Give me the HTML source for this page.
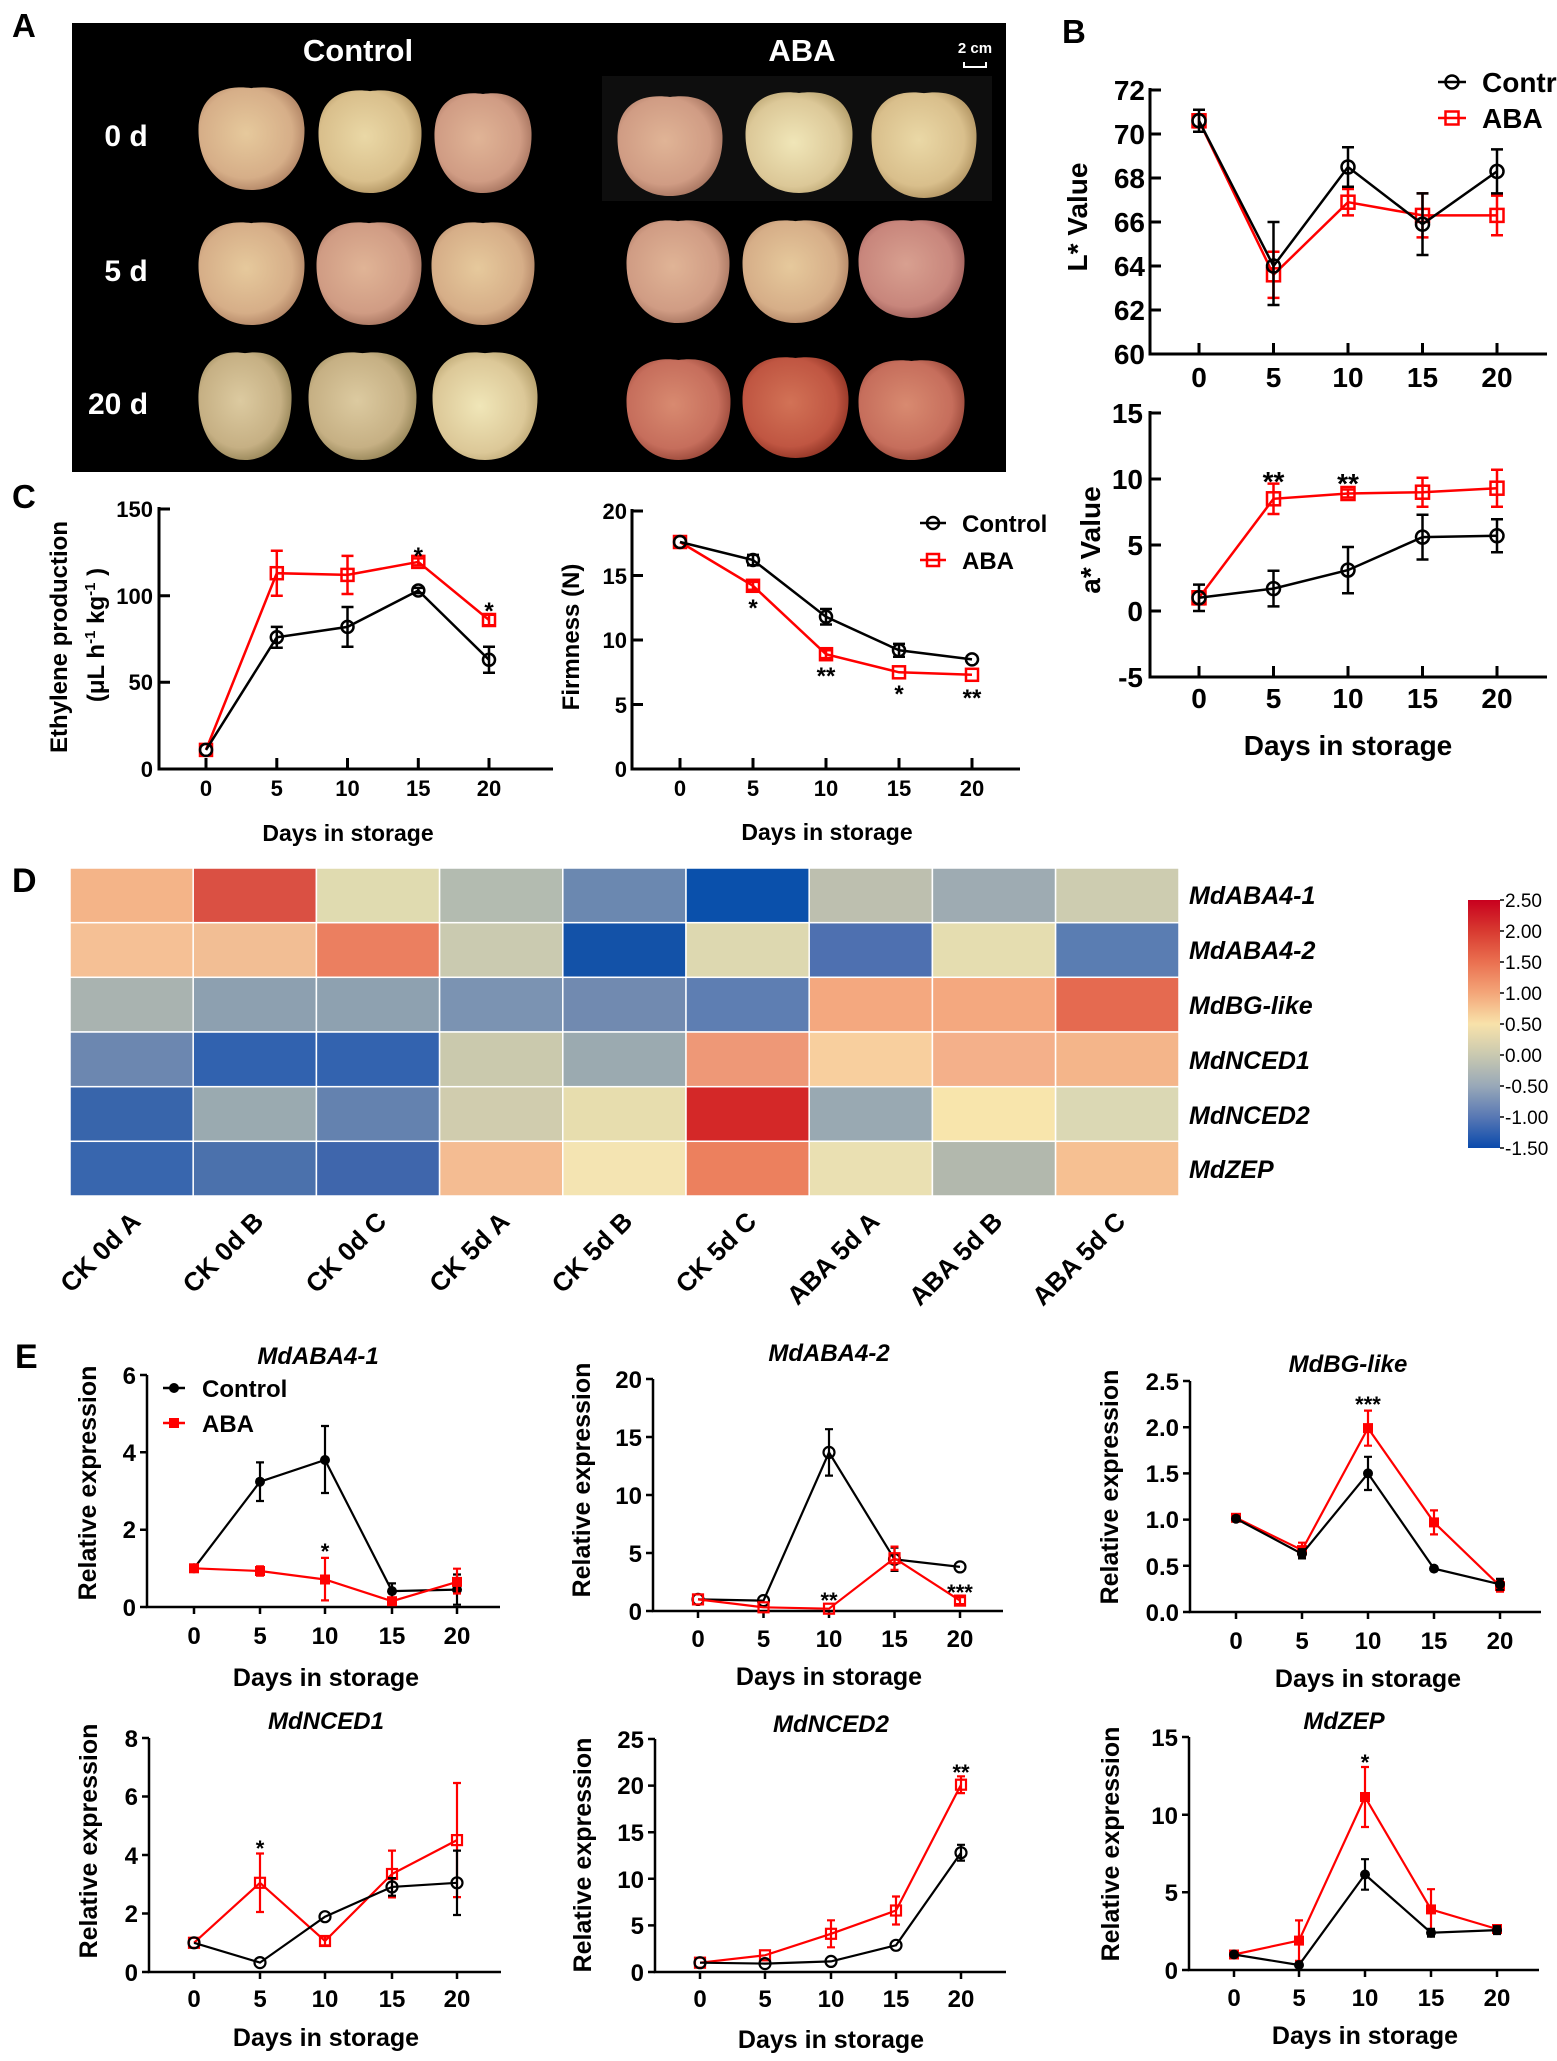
<!DOCTYPE html>
<html><head><meta charset="utf-8">
<style>
html,body{margin:0;padding:0;background:#fff;}
svg{display:block;}
text{font-family:"Liberation Sans",Arial,sans-serif;}
.b{font-weight:bold;}
</style></head>
<body>
<svg width="1557" height="2061" viewBox="0 0 1557 2061" xmlns="http://www.w3.org/2000/svg">
<defs>
<path id="ap" d="M0,-0.96 C0.5,-1.03 0.96,-0.86 0.99,-0.2 C1.01,0.5 0.62,1 0,1 C-0.62,1 -1.01,0.5 -0.99,-0.2 C-0.96,-0.86 -0.5,-1.03 0,-0.96Z"/>
<radialGradient id="gCream" cx="45%" cy="45%" r="62%"><stop offset="0" stop-color="#ead8a6"/><stop offset="0.7" stop-color="#d9bf8c"/><stop offset="1" stop-color="#a88a58"/></radialGradient>
<radialGradient id="gCP" cx="45%" cy="45%" r="62%"><stop offset="0" stop-color="#e6c99c"/><stop offset="0.7" stop-color="#d6ae88"/><stop offset="1" stop-color="#a87a5c"/></radialGradient>
<radialGradient id="gPink" cx="45%" cy="45%" r="62%"><stop offset="0" stop-color="#e0b496"/><stop offset="0.7" stop-color="#d09c84"/><stop offset="1" stop-color="#9c6a56"/></radialGradient>
<radialGradient id="gPR" cx="45%" cy="45%" r="62%"><stop offset="0" stop-color="#d8a090"/><stop offset="0.7" stop-color="#c8867c"/><stop offset="1" stop-color="#945450"/></radialGradient>
<radialGradient id="gLC" cx="45%" cy="50%" r="62%"><stop offset="0" stop-color="#f0e6b8"/><stop offset="0.7" stop-color="#dcc898"/><stop offset="1" stop-color="#b09a66"/></radialGradient>
<radialGradient id="gGreen" cx="45%" cy="45%" r="62%"><stop offset="0" stop-color="#dccaa0"/><stop offset="0.7" stop-color="#c6b084"/><stop offset="1" stop-color="#8a7a4c"/></radialGradient>
<radialGradient id="gRed" cx="45%" cy="45%" r="62%"><stop offset="0" stop-color="#d88a70"/><stop offset="0.7" stop-color="#c66e5c"/><stop offset="1" stop-color="#8e3e30"/></radialGradient>
<radialGradient id="gDRed" cx="45%" cy="45%" r="62%"><stop offset="0" stop-color="#d27256"/><stop offset="0.7" stop-color="#c05642"/><stop offset="1" stop-color="#862c1e"/></radialGradient>
<linearGradient id="cbar" x1="0" y1="0" x2="0" y2="1">
<stop offset="0" stop-color="#c8001e"/><stop offset="0.125" stop-color="#d83a30"/><stop offset="0.25" stop-color="#ea7050"/><stop offset="0.375" stop-color="#f4a679"/><stop offset="0.5" stop-color="#f8e2aa"/><stop offset="0.625" stop-color="#c9c9b0"/><stop offset="0.75" stop-color="#98a8b8"/><stop offset="0.875" stop-color="#5878b4"/><stop offset="1" stop-color="#0a4aac"/>
</linearGradient>
</defs>

<!-- ============ PANEL A ============ -->
<text x="12" y="37" class="b" font-size="33">A</text>
<rect x="72" y="23" width="934" height="449" fill="#000"/>
<rect x="602" y="76" width="390" height="125" fill="#0e0e0e"/>
<text x="358" y="61" class="b" font-size="31" fill="#fff" text-anchor="middle">Control</text>
<text x="802" y="61" class="b" font-size="31" fill="#fff" text-anchor="middle">ABA</text>
<text x="975" y="53" class="b" font-size="15" fill="#fff" text-anchor="middle">2 cm</text>
<path d="M964 62 V67 H986 V62" stroke="#fff" stroke-width="2" fill="none"/>
<text x="126" y="146" class="b" font-size="30" fill="#fff" text-anchor="middle">0 d</text>
<text x="126" y="281" class="b" font-size="30" fill="#fff" text-anchor="middle">5 d</text>
<text x="118" y="414" class="b" font-size="30" fill="#fff" text-anchor="middle">20 d</text>
<!-- apples row 0d -->
<use href="#ap" transform="translate(251.5,138) scale(53.5,52)" fill="url(#gCP)"/>
<use href="#ap" transform="translate(370,141) scale(52,52)" fill="url(#gCream)"/>
<use href="#ap" transform="translate(483,142.5) scale(49,50.5)" fill="url(#gPink)"/>
<use href="#ap" transform="translate(670,145.5) scale(53,50.5)" fill="url(#gPink)"/>
<use href="#ap" transform="translate(799,142) scale(54,51)" fill="url(#gLC)"/>
<use href="#ap" transform="translate(924,144.5) scale(53,53.5)" fill="url(#gCream)"/>
<!-- apples row 5d -->
<use href="#ap" transform="translate(251.5,273) scale(53.5,52)" fill="url(#gCP)"/>
<use href="#ap" transform="translate(369,273) scale(53,52)" fill="url(#gPink)"/>
<use href="#ap" transform="translate(483,273) scale(52,52)" fill="url(#gCP)"/>
<use href="#ap" transform="translate(678,271) scale(52,52)" fill="url(#gPink)"/>
<use href="#ap" transform="translate(795.5,271) scale(53.5,52)" fill="url(#gCP)"/>
<use href="#ap" transform="translate(911.5,268.5) scale(53.5,49.5)" fill="url(#gPR)"/>
<!-- apples row 20d -->
<use href="#ap" transform="translate(245,405.5) scale(47,54.5)" fill="url(#gGreen)"/>
<use href="#ap" transform="translate(362.5,405.5) scale(54.5,54.5)" fill="url(#gGreen)"/>
<use href="#ap" transform="translate(485,405.5) scale(53,54.5)" fill="url(#gLC)"/>
<use href="#ap" transform="translate(678.5,409) scale(52.5,51)" fill="url(#gRed)"/>
<use href="#ap" transform="translate(795.5,407) scale(53.5,51)" fill="url(#gDRed)"/>
<use href="#ap" transform="translate(911.5,409.5) scale(53.5,50.5)" fill="url(#gRed)"/>

<!-- ============ PANEL B ============ -->
<text x="1062" y="43" class="b" font-size="33">B</text>
<!-- L* chart -->
<g stroke="#000" stroke-width="3" fill="none">
<path d="M1150 88 V354 H1547"/>
<path d="M1150 90 H1161 M1150 134 H1161 M1150 178 H1161 M1150 222 H1161 M1150 266 H1161 M1150 310 H1161"/>
<path d="M1199 343 V354 M1273.5 343 V354 M1348 343 V354 M1422.5 343 V354 M1497 343 V354"/>
</g>
<g class="b" font-size="28" text-anchor="end">
<text x="1145" y="100">72</text><text x="1145" y="144">70</text><text x="1145" y="188">68</text><text x="1145" y="232">66</text><text x="1145" y="276">64</text><text x="1145" y="320">62</text><text x="1145" y="364">60</text>
</g>
<g class="b" font-size="28" text-anchor="middle">
<text x="1199" y="387">0</text><text x="1273.5" y="387">5</text><text x="1348" y="387">10</text><text x="1422.5" y="387">15</text><text x="1497" y="387">20</text>
</g>
<text transform="translate(1087,217) rotate(-90)" class="b" font-size="28" text-anchor="middle">L* Value</text>
<g fill="none" stroke="#f00" stroke-width="2.5">
<polyline points="1199,120.8 1273.5,274.8 1348,202.2 1422.5,215.4 1497,215.4"/>
<path d="M1193 114.2 H1205 M1199 114.2 V127.4 M1193 127.4 H1205 M1267.5 251.7 H1279.5 M1273.5 251.7 V297.9 M1267.5 297.9 H1279.5 M1342 189 H1354 M1348 189 V215.4 M1342 215.4 H1354 M1416.5 193.4 H1428.5 M1422.5 193.4 V237.4 M1416.5 237.4 H1428.5 M1491 195.6 H1503 M1497 195.6 V235.2 M1491 235.2 H1503"/>
<rect x="1192.5" y="114.3" width="13" height="13"/><rect x="1267" y="268.3" width="13" height="13"/><rect x="1341.5" y="195.7" width="13" height="13"/><rect x="1416" y="208.9" width="13" height="13"/><rect x="1490.5" y="208.9" width="13" height="13"/>
</g>
<g fill="none" stroke="#000" stroke-width="2.5">
<polyline points="1199,120.8 1273.5,266 1348,167 1422.5,224.2 1497,171.4"/>
<path d="M1193 109.8 H1205 M1199 109.8 V131.8 M1193 131.8 H1205 M1267.5 222 H1279.5 M1273.5 222 V305 M1267.5 305 H1279.5 M1342 147.2 H1354 M1348 147.2 V186.8 M1342 186.8 H1354 M1416.5 193.4 H1428.5 M1422.5 193.4 V255 M1416.5 255 H1428.5 M1491 149.4 H1503 M1497 149.4 V193.4 M1491 193.4 H1503"/>
<circle cx="1199" cy="120.8" r="6.5"/><circle cx="1273.5" cy="266" r="6.5"/><circle cx="1348" cy="167" r="6.5"/><circle cx="1422.5" cy="224.2" r="6.5"/><circle cx="1497" cy="171.4" r="6.5"/>
</g>
<!-- legend B -->
<g fill="none" stroke-width="2.5">
<path d="M1438 82 H1466" stroke="#000"/><circle cx="1452" cy="82" r="6.5" stroke="#000"/>
<path d="M1438 118 H1466" stroke="#f00"/><rect x="1445.5" y="111.5" width="13" height="13" stroke="#f00"/>
</g>
<text x="1482" y="92" class="b" font-size="28">Control</text>
<text x="1482" y="128" class="b" font-size="28">ABA</text>

<!-- a* chart -->
<g stroke="#000" stroke-width="3" fill="none">
<path d="M1150 411 V677 H1547"/>
<path d="M1150 413 H1161 M1150 479 H1161 M1150 545 H1161 M1150 611 H1161"/>
<path d="M1199 666 V677 M1273.5 666 V677 M1348 666 V677 M1422.5 666 V677 M1497 666 V677"/>
</g>
<g class="b" font-size="28" text-anchor="end">
<text x="1143" y="423">15</text><text x="1143" y="489">10</text><text x="1143" y="555">5</text><text x="1143" y="621">0</text><text x="1143" y="687">-5</text>
</g>
<g class="b" font-size="28" text-anchor="middle">
<text x="1199" y="708">0</text><text x="1273.5" y="708">5</text><text x="1348" y="708">10</text><text x="1422.5" y="708">15</text><text x="1497" y="708">20</text>
</g>
<text x="1348" y="755" class="b" font-size="28" text-anchor="middle">Days in storage</text>
<text transform="translate(1100,540) rotate(-90)" class="b" font-size="28" text-anchor="middle">a* Value</text>
<g fill="none" stroke="#f00" stroke-width="2.5">
<polyline points="1199,597.8 1273.5,498.8 1348,493.5 1422.5,492.2 1497,488.2"/>
<path d="M1193 591.2 H1205 M1199 591.2 V604.4 M1193 604.4 H1205 M1267.5 483.6 H1279.5 M1273.5 483.6 V514 M1267.5 514 H1279.5 M1342 489.5 H1354 M1348 489.5 V497.5 M1342 497.5 H1354 M1416.5 477.7 H1428.5 M1422.5 477.7 V506.7 M1416.5 506.7 H1428.5 M1491 469.7 H1503 M1497 469.7 V506.7 M1491 506.7 H1503"/>
<rect x="1192.5" y="591.3" width="13" height="13"/><rect x="1267" y="492.3" width="13" height="13"/><rect x="1341.5" y="487" width="13" height="13"/><rect x="1416" y="485.7" width="13" height="13"/><rect x="1490.5" y="481.7" width="13" height="13"/>
</g>
<g fill="none" stroke="#000" stroke-width="2.5">
<polyline points="1199,597.8 1273.5,588.6 1348,570.1 1422.5,537.1 1497,535.8"/>
<path d="M1193 584.6 H1205 M1199 584.6 V611 M1193 611 H1205 M1267.5 570.8 H1279.5 M1273.5 570.8 V606.4 M1267.5 606.4 H1279.5 M1342 547 H1354 M1348 547 V593.2 M1342 593.2 H1354 M1416.5 514.7 H1428.5 M1422.5 514.7 V559.5 M1416.5 559.5 H1428.5 M1491 519.3 H1503 M1497 519.3 V552.3 M1491 552.3 H1503"/>
<circle cx="1199" cy="597.8" r="6.5"/><circle cx="1273.5" cy="588.6" r="6.5"/><circle cx="1348" cy="570.1" r="6.5"/><circle cx="1422.5" cy="537.1" r="6.5"/><circle cx="1497" cy="535.8" r="6.5"/>
</g>
<g class="b" font-size="28" text-anchor="middle">
<text x="1273.5" y="491">**</text><text x="1348" y="493">**</text>
</g>

<!-- ============ PANEL C ============ -->
<text x="12" y="508" class="b" font-size="33">C</text>
<!-- Ethylene -->
<g stroke="#000" stroke-width="3" fill="none">
<path d="M159 507 V769 H553"/>
<path d="M159 509 H170 M159 595.7 H170 M159 682.3 H170"/>
<path d="M206 758 V769 M276.8 758 V769 M347.5 758 V769 M418.3 758 V769 M489 758 V769"/>
</g>
<g class="b" font-size="22" text-anchor="end">
<text x="153" y="517">150</text><text x="153" y="604">100</text><text x="153" y="690">50</text><text x="153" y="777">0</text>
</g>
<g class="b" font-size="22" text-anchor="middle">
<text x="206" y="796">0</text><text x="276.8" y="796">5</text><text x="347.5" y="796">10</text><text x="418.3" y="796">15</text><text x="489" y="796">20</text>
</g>
<text x="348" y="841" class="b" font-size="23" text-anchor="middle">Days in storage</text>
<text transform="translate(67,637) rotate(-90)" class="b" font-size="24" text-anchor="middle">Ethylene production</text>
<text transform="translate(104,635) rotate(-90)" class="b" font-size="24" text-anchor="middle">(μL h<tspan font-size="15" dy="-9">-1</tspan><tspan dy="9"> kg</tspan><tspan font-size="15" dy="-9">-1</tspan><tspan dy="9"> )</tspan></text>
<g fill="none" stroke="#f00" stroke-width="2.5">
<polyline points="206,749.9 276.8,573.2 347.5,574.9 418.3,561.9 489,620"/>
<path d="M270.8 550.7 H282.8 M276.8 550.7 V595.7 M270.8 595.7 H282.8 M341.5 555.9 H353.5 M347.5 555.9 V594 M341.5 594 H353.5 M412.3 558.4 H424.3 M418.3 558.4 V565.4 M412.3 565.4 H424.3 M483 614.8 H495 M489 614.8 V625.2 M483 625.2 H495"/>
<rect x="200" y="743.9" width="12" height="12"/><rect x="270.8" y="567.2" width="12" height="12"/><rect x="341.5" y="568.9" width="12" height="12"/><rect x="412.3" y="555.9" width="12" height="12"/><rect x="483" y="614" width="12" height="12"/>
</g>
<g fill="none" stroke="#000" stroke-width="2.5">
<polyline points="206,749.9 276.8,637.3 347.5,626.9 418.3,590.5 489,659.8"/>
<path d="M270.8 626.9 H282.8 M276.8 626.9 V647.7 M270.8 647.7 H282.8 M341.5 607 H353.5 M347.5 607 V646.8 M341.5 646.8 H353.5 M412.3 587.9 H424.3 M418.3 587.9 V593.1 M412.3 593.1 H424.3 M483 646.8 H495 M489 646.8 V672.8 M483 672.8 H495"/>
<circle cx="206" cy="749.9" r="6"/><circle cx="276.8" cy="637.3" r="6"/><circle cx="347.5" cy="626.9" r="6"/><circle cx="418.3" cy="590.5" r="6"/><circle cx="489" cy="659.8" r="6"/>
</g>
<g class="b" font-size="24" text-anchor="middle">
<text x="418.3" y="564">*</text><text x="489" y="619">*</text>
</g>

<!-- Firmness -->
<g stroke="#000" stroke-width="3" fill="none">
<path d="M632 509 V769 H1020"/>
<path d="M632 511 H643 M632 575.5 H643 M632 640 H643 M632 704.5 H643"/>
<path d="M680 758 V769 M753 758 V769 M826 758 V769 M899 758 V769 M972 758 V769"/>
</g>
<g class="b" font-size="22" text-anchor="end">
<text x="627" y="519">20</text><text x="627" y="584">15</text><text x="627" y="648">10</text><text x="627" y="713">5</text><text x="627" y="777">0</text>
</g>
<g class="b" font-size="22" text-anchor="middle">
<text x="680" y="796">0</text><text x="753" y="796">5</text><text x="826" y="796">10</text><text x="899" y="796">15</text><text x="972" y="796">20</text>
</g>
<text x="827" y="840" class="b" font-size="23" text-anchor="middle">Days in storage</text>
<text transform="translate(579,637) rotate(-90)" class="b" font-size="24" text-anchor="middle">Firmness (N)</text>
<g fill="none" stroke="#f00" stroke-width="2.5">
<polyline points="680,542 753,585.8 826,654.2 899,672.3 972,674.8"/>
<path d="M747 581.9 H759 M753 581.9 V589.7 M747 589.7 H759 M820 650.3 H832 M826 650.3 V658.1 M820 658.1 H832"/>
<rect x="674" y="536" width="12" height="12"/><rect x="747" y="579.8" width="12" height="12"/><rect x="820" y="648.2" width="12" height="12"/><rect x="893" y="666.3" width="12" height="12"/><rect x="966" y="668.8" width="12" height="12"/>
</g>
<g fill="none" stroke="#000" stroke-width="2.5">
<polyline points="680,542 753,560 826,616.8 899,650.3 972,659.4"/>
<path d="M747 554.9 H759 M753 554.9 V565.2 M747 565.2 H759 M820 609 H832 M826 609 V624.5 M820 624.5 H832 M893 643.9 H905 M899 643.9 V656.8 M893 656.8 H905"/>
<circle cx="680" cy="542" r="6"/><circle cx="753" cy="560" r="6"/><circle cx="826" cy="616.8" r="6"/><circle cx="899" cy="650.3" r="6"/><circle cx="972" cy="659.4" r="6"/>
</g>
<g class="b" font-size="24" text-anchor="middle">
<text x="753" y="616">*</text><text x="826" y="684">**</text><text x="899" y="702">*</text><text x="972" y="706">**</text>
</g>
<!-- legend C -->
<g fill="none" stroke-width="2.5">
<path d="M920 523 H946" stroke="#000"/><circle cx="933" cy="523" r="6" stroke="#000"/>
<path d="M920 560 H946" stroke="#f00"/><rect x="927" y="554" width="12" height="12" stroke="#f00"/>
</g>
<text x="962" y="532" class="b" font-size="24">Control</text>
<text x="962" y="569" class="b" font-size="24">ABA</text>

<!-- ============ PANEL D ============ -->
<text x="12" y="892" class="b" font-size="34">D</text>
<g stroke="#fff" stroke-width="1.5">
<rect x="70" y="868" width="123.2" height="54.7" fill="#F4B488"/>
<rect x="193.2" y="868" width="123.2" height="54.7" fill="#DA5043"/>
<rect x="316.4" y="868" width="123.2" height="54.7" fill="#E0DBB0"/>
<rect x="439.6" y="868" width="123.2" height="54.7" fill="#B3BBB0"/>
<rect x="562.8" y="868" width="123.2" height="54.7" fill="#6B88B0"/>
<rect x="686" y="868" width="123.2" height="54.7" fill="#0A50AB"/>
<rect x="809.2" y="868" width="123.2" height="54.7" fill="#BDBFAF"/>
<rect x="932.4" y="868" width="123.2" height="54.7" fill="#9EABB2"/>
<rect x="1055.6" y="868" width="123.4" height="54.7" fill="#CDCCB0"/>
<rect x="70" y="922.7" width="123.2" height="54.7" fill="#F5C095"/>
<rect x="193.2" y="922.7" width="123.2" height="54.7" fill="#F2BE94"/>
<rect x="316.4" y="922.7" width="123.2" height="54.7" fill="#EB7F60"/>
<rect x="439.6" y="922.7" width="123.2" height="54.7" fill="#CACAB0"/>
<rect x="562.8" y="922.7" width="123.2" height="54.7" fill="#1352A8"/>
<rect x="686" y="922.7" width="123.2" height="54.7" fill="#DDD8B0"/>
<rect x="809.2" y="922.7" width="123.2" height="54.7" fill="#4E70B0"/>
<rect x="932.4" y="922.7" width="123.2" height="54.7" fill="#E5DDB0"/>
<rect x="1055.6" y="922.7" width="123.4" height="54.7" fill="#5A7DB2"/>
<rect x="70" y="977.3" width="123.2" height="54.7" fill="#A9B3B0"/>
<rect x="193.2" y="977.3" width="123.2" height="54.7" fill="#8DA0B0"/>
<rect x="316.4" y="977.3" width="123.2" height="54.7" fill="#8EA1B0"/>
<rect x="439.6" y="977.3" width="123.2" height="54.7" fill="#7B93B2"/>
<rect x="562.8" y="977.3" width="123.2" height="54.7" fill="#718AB0"/>
<rect x="686" y="977.3" width="123.2" height="54.7" fill="#5E7EB2"/>
<rect x="809.2" y="977.3" width="123.2" height="54.7" fill="#F4A87F"/>
<rect x="932.4" y="977.3" width="123.2" height="54.7" fill="#F4A87F"/>
<rect x="1055.6" y="977.3" width="123.4" height="54.7" fill="#E56A50"/>
<rect x="70" y="1032" width="123.2" height="54.7" fill="#6C87B0"/>
<rect x="193.2" y="1032" width="123.2" height="54.7" fill="#3162AF"/>
<rect x="316.4" y="1032" width="123.2" height="54.7" fill="#3363AF"/>
<rect x="439.6" y="1032" width="123.2" height="54.7" fill="#CAC9AD"/>
<rect x="562.8" y="1032" width="123.2" height="54.7" fill="#9BAAB0"/>
<rect x="686" y="1032" width="123.2" height="54.7" fill="#EE9877"/>
<rect x="809.2" y="1032" width="123.2" height="54.7" fill="#F8CF9E"/>
<rect x="932.4" y="1032" width="123.2" height="54.7" fill="#F4B08A"/>
<rect x="1055.6" y="1032" width="123.4" height="54.7" fill="#F4B58A"/>
<rect x="70" y="1086.7" width="123.2" height="54.7" fill="#3865AB"/>
<rect x="193.2" y="1086.7" width="123.2" height="54.7" fill="#9AAAB0"/>
<rect x="316.4" y="1086.7" width="123.2" height="54.7" fill="#6482AF"/>
<rect x="439.6" y="1086.7" width="123.2" height="54.7" fill="#D0CCAE"/>
<rect x="562.8" y="1086.7" width="123.2" height="54.7" fill="#E7DDAE"/>
<rect x="686" y="1086.7" width="123.2" height="54.7" fill="#D42828"/>
<rect x="809.2" y="1086.7" width="123.2" height="54.7" fill="#99A9B2"/>
<rect x="932.4" y="1086.7" width="123.2" height="54.7" fill="#F8E5AC"/>
<rect x="1055.6" y="1086.7" width="123.4" height="54.7" fill="#DBD8B4"/>
<rect x="70" y="1141.3" width="123.2" height="54.7" fill="#3866AE"/>
<rect x="193.2" y="1141.3" width="123.2" height="54.7" fill="#4B71AC"/>
<rect x="316.4" y="1141.3" width="123.2" height="54.7" fill="#3F66AC"/>
<rect x="439.6" y="1141.3" width="123.2" height="54.7" fill="#F4BC92"/>
<rect x="562.8" y="1141.3" width="123.2" height="54.7" fill="#F4E4B2"/>
<rect x="686" y="1141.3" width="123.2" height="54.7" fill="#EC805E"/>
<rect x="809.2" y="1141.3" width="123.2" height="54.7" fill="#EAE0B2"/>
<rect x="932.4" y="1141.3" width="123.2" height="54.7" fill="#B2B8AD"/>
<rect x="1055.6" y="1141.3" width="123.4" height="54.7" fill="#F6C092"/>
</g>
<g class="b" font-size="25" font-style="italic">
<text x="1189" y="904">MdABA4-1</text>
<text x="1189" y="959">MdABA4-2</text>
<text x="1189" y="1014">MdBG-like</text>
<text x="1189" y="1069">MdNCED1</text>
<text x="1189" y="1124">MdNCED2</text>
<text x="1189" y="1178">MdZEP</text>
</g>
<g class="b" font-size="26" text-anchor="end" style="white-space:pre">
<text transform="translate(142,1223) rotate(-45)">CK 0d A</text>
<text transform="translate(265,1223) rotate(-45)">CK 0d B</text>
<text transform="translate(388,1223) rotate(-45)">CK 0d C</text>
<text transform="translate(511,1223) rotate(-45)">CK 5d A</text>
<text transform="translate(634,1223) rotate(-45)">CK 5d B</text>
<text transform="translate(758,1223) rotate(-45)">CK 5d C</text>
<text transform="translate(881,1223) rotate(-45)">ABA 5d A</text>
<text transform="translate(1004,1223) rotate(-45)">ABA 5d  B</text>
<text transform="translate(1127,1223) rotate(-45)">ABA 5d  C</text>
</g>
<!-- colorbar -->
<rect x="1468" y="900" width="32" height="248" fill="url(#cbar)"/>
<g stroke="#000" stroke-width="1.5">
<path d="M1500 900 H1504 M1500 931 H1504 M1500 962 H1504 M1500 993 H1504 M1500 1024 H1504 M1500 1055 H1504 M1500 1086 H1504 M1500 1117 H1504 M1500 1148 H1504"/>
</g>
<g font-size="19">
<text x="1505" y="907">2.50</text><text x="1505" y="938">2.00</text><text x="1505" y="969">1.50</text><text x="1505" y="1000">1.00</text><text x="1505" y="1031">0.50</text><text x="1505" y="1062">0.00</text><text x="1505" y="1093">-0.50</text><text x="1505" y="1124">-1.00</text><text x="1505" y="1155">-1.50</text>
</g>

<!-- ============ PANEL E ============ -->
<text x="15" y="1368" class="b" font-size="34">E</text>

<!-- E1 MdABA4-1 -->
<g stroke="#000" stroke-width="2.5" fill="none">
<path d="M147 1375 V1607 H500"/>
<path d="M140 1375 H147 M140 1452.3 H147 M140 1529.7 H147 M140 1607 H147"/>
<path d="M194 1607 V1614 M260 1607 V1614 M325 1607 V1614 M392 1607 V1614 M457 1607 V1614"/>
</g>
<g class="b" font-size="24" text-anchor="end">
<text x="136" y="1384">6</text><text x="136" y="1461">4</text><text x="136" y="1538">2</text><text x="136" y="1616">0</text>
</g>
<g class="b" font-size="24" text-anchor="middle">
<text x="194" y="1644">0</text><text x="260" y="1644">5</text><text x="325" y="1644">10</text><text x="392" y="1644">15</text><text x="457" y="1644">20</text>
</g>
<text x="318" y="1364" class="b" font-size="24" font-style="italic" text-anchor="middle">MdABA4-1</text>
<text x="326" y="1686" class="b" font-size="25" text-anchor="middle">Days in storage</text>
<text transform="translate(96,1483) rotate(-90)" class="b" font-size="25" text-anchor="middle">Relative expression</text>
<g fill="none" stroke="#000" stroke-width="2.2">
<polyline points="194,1568.3 260,1481.7 325,1460 392,1591.1 457,1589.6"/>
<path d="M256 1462.4 H264 M260 1462.4 V1501 M256 1501 H264 M321 1426 H329 M325 1426 V1493 M321 1493 H329 M388 1583.4 H396 M392 1583.4 V1598.8 M388 1598.8 H396 M453 1574.5 H461 M457 1574.5 V1604.7 M453 1604.7 H461"/>
</g>
<g fill="#000"><circle cx="194" cy="1568.3" r="5"/><circle cx="260" cy="1481.7" r="5"/><circle cx="325" cy="1460" r="5"/><circle cx="392" cy="1591.1" r="5"/><circle cx="457" cy="1589.6" r="5"/></g>
<g fill="none" stroke="#f00" stroke-width="2.2">
<polyline points="194,1568.3 260,1571 325,1579.5 392,1601.2 457,1581.9"/>
<path d="M321 1557.9 H329 M325 1557.9 V1600.4 M321 1600.4 H329 M453 1568.7 H461 M457 1568.7 V1593.5 M453 1593.5 H461 M256 1566.4 H264 M260 1566.4 V1575.6 M256 1575.6 H264"/>
</g>
<g fill="#f00"><rect x="189" y="1563.3" width="10" height="10"/><rect x="255" y="1566" width="10" height="10"/><rect x="320" y="1574.5" width="10" height="10"/><rect x="387" y="1596.2" width="10" height="10"/><rect x="452" y="1576.9" width="10" height="10"/></g>
<text x="325" y="1559" class="b" font-size="22" text-anchor="middle">*</text>
<path d="M163 1388 H185" stroke="#000" stroke-width="2.5"/><circle cx="174" cy="1388" r="5" fill="#000"/>
<path d="M163 1423 H185" stroke="#f00" stroke-width="2.5"/><rect x="169" y="1418" width="10" height="10" fill="#f00"/>
<text x="202" y="1397" class="b" font-size="24">Control</text>
<text x="202" y="1432" class="b" font-size="24">ABA</text>

<!-- E2 MdABA4-2 -->
<g stroke="#000" stroke-width="2.5" fill="none">
<path d="M653 1379 V1611 H1003"/>
<path d="M646 1379 H653 M646 1437 H653 M646 1495 H653 M646 1553 H653 M646 1611 H653"/>
<path d="M698 1611 V1618 M763.5 1611 V1618 M829 1611 V1618 M894.5 1611 V1618 M960 1611 V1618"/>
</g>
<g class="b" font-size="24" text-anchor="end">
<text x="642" y="1388">20</text><text x="642" y="1446">15</text><text x="642" y="1504">10</text><text x="642" y="1562">5</text><text x="642" y="1620">0</text>
</g>
<g class="b" font-size="24" text-anchor="middle">
<text x="698" y="1647">0</text><text x="763.5" y="1647">5</text><text x="829" y="1647">10</text><text x="894.5" y="1647">15</text><text x="960" y="1647">20</text>
</g>
<text x="829" y="1361" class="b" font-size="24" font-style="italic" text-anchor="middle">MdABA4-2</text>
<text x="829" y="1685" class="b" font-size="25" text-anchor="middle">Days in storage</text>
<text transform="translate(590,1480) rotate(-90)" class="b" font-size="25" text-anchor="middle">Relative expression</text>
<g fill="none" stroke="#000" stroke-width="2.2">
<polyline points="698,1599.4 763.5,1600.6 829,1452.4 894.5,1559.3 960,1566.9"/>
<path d="M825 1429.2 H833 M829 1429.2 V1475.6 M825 1475.6 H833 M890.5 1547.7 H898.5 M894.5 1547.7 V1570.9 M890.5 1570.9 H898.5"/>
<circle cx="698" cy="1599.4" r="5.5"/><circle cx="763.5" cy="1600.6" r="5.5"/><circle cx="829" cy="1452.4" r="5.5"/><circle cx="894.5" cy="1559.3" r="5.5"/><circle cx="960" cy="1566.9" r="5.5"/>
</g>
<g fill="none" stroke="#f00" stroke-width="2.2">
<polyline points="698,1599.4 763.5,1607.3 829,1608.7 894.5,1558.2 960,1600.6"/>
<path d="M890.5 1546.6 H898.5 M894.5 1546.6 V1569.8 M890.5 1569.8 H898.5 M956 1597.1 H964 M960 1597.1 V1604.1 M956 1604.1 H964"/>
<rect x="693" y="1594.4" width="10" height="10"/><rect x="758.5" y="1602.3" width="10" height="10"/><rect x="824" y="1603.7" width="10" height="10"/><rect x="889.5" y="1553.2" width="10" height="10"/><rect x="955" y="1595.6" width="10" height="10"/>
</g>
<g class="b" font-size="22" text-anchor="middle"><text x="829" y="1608">**</text><text x="960" y="1600">***</text></g>

<!-- E3 MdBG-like -->
<g stroke="#000" stroke-width="2.5" fill="none">
<path d="M1190 1381 V1612 H1541"/>
<path d="M1183 1381 H1190 M1183 1427.2 H1190 M1183 1473.4 H1190 M1183 1519.6 H1190 M1183 1565.8 H1190 M1183 1612 H1190"/>
<path d="M1236 1612 V1619 M1302 1612 V1619 M1368 1612 V1619 M1434 1612 V1619 M1500 1612 V1619"/>
</g>
<g class="b" font-size="24" text-anchor="end">
<text x="1179" y="1390">2.5</text><text x="1179" y="1436">2.0</text><text x="1179" y="1482">1.5</text><text x="1179" y="1528">1.0</text><text x="1179" y="1575">0.5</text><text x="1179" y="1621">0.0</text>
</g>
<g class="b" font-size="24" text-anchor="middle">
<text x="1236" y="1649">0</text><text x="1302" y="1649">5</text><text x="1368" y="1649">10</text><text x="1434" y="1649">15</text><text x="1500" y="1649">20</text>
</g>
<text x="1348" y="1372" class="b" font-size="24" font-style="italic" text-anchor="middle">MdBG-like</text>
<text x="1368" y="1687" class="b" font-size="25" text-anchor="middle">Days in storage</text>
<text transform="translate(1118,1487) rotate(-90)" class="b" font-size="25" text-anchor="middle">Relative expression</text>
<g fill="none" stroke="#f00" stroke-width="2.2">
<polyline points="1236,1517.8 1302,1550.1 1368,1428.1 1434,1522.4 1500,1586.1"/>
<path d="M1298 1542.7 H1306 M1302 1542.7 V1557.5 M1298 1557.5 H1306 M1364 1410.6 H1372 M1368 1410.6 V1445.7 M1364 1445.7 H1372 M1430 1510.4 H1438 M1434 1510.4 V1534.4 M1430 1534.4 H1438 M1496 1580.6 H1504 M1500 1580.6 V1591.6 M1496 1591.6 H1504"/>
</g>
<g fill="#f00"><rect x="1231" y="1512.8" width="10" height="10"/><rect x="1297" y="1545.1" width="10" height="10"/><rect x="1363" y="1423.1" width="10" height="10"/><rect x="1429" y="1517.4" width="10" height="10"/><rect x="1495" y="1581.1" width="10" height="10"/></g>
<g fill="none" stroke="#000" stroke-width="2.2">
<polyline points="1236,1518.7 1302,1553.8 1368,1473.4 1434,1568.6 1500,1584.3"/>
<path d="M1298 1549.2 H1306 M1302 1549.2 V1558.4 M1298 1558.4 H1306 M1364 1456.8 H1372 M1368 1456.8 V1490 M1364 1490 H1372 M1496 1578.8 H1504 M1500 1578.8 V1589.8 M1496 1589.8 H1504"/>
</g>
<g fill="#000"><circle cx="1236" cy="1518.7" r="5"/><circle cx="1302" cy="1553.8" r="5"/><circle cx="1368" cy="1473.4" r="5"/><circle cx="1434" cy="1568.6" r="5"/><circle cx="1500" cy="1584.3" r="5"/></g>
<text x="1368" y="1412" class="b" font-size="22" text-anchor="middle">***</text>

<!-- E4 MdNCED1 -->
<g stroke="#000" stroke-width="2.5" fill="none">
<path d="M149 1738 V1972 H501"/>
<path d="M142 1738 H149 M142 1796.5 H149 M142 1855 H149 M142 1913.5 H149 M142 1972 H149"/>
<path d="M194 1972 V1979 M260 1972 V1979 M325 1972 V1979 M392 1972 V1979 M457 1972 V1979"/>
</g>
<g class="b" font-size="24" text-anchor="end">
<text x="138" y="1747">8</text><text x="138" y="1805">6</text><text x="138" y="1864">4</text><text x="138" y="1922">2</text><text x="138" y="1981">0</text>
</g>
<g class="b" font-size="24" text-anchor="middle">
<text x="194" y="2007">0</text><text x="260" y="2007">5</text><text x="325" y="2007">10</text><text x="392" y="2007">15</text><text x="457" y="2007">20</text>
</g>
<text x="326" y="1729" class="b" font-size="24" font-style="italic" text-anchor="middle">MdNCED1</text>
<text x="326" y="2046" class="b" font-size="25" text-anchor="middle">Days in storage</text>
<text transform="translate(97,1841) rotate(-90)" class="b" font-size="25" text-anchor="middle">Relative expression</text>
<g fill="none" stroke="#f00" stroke-width="2.2">
<polyline points="194,1942.8 260,1882.8 325,1941 392,1874 457,1840.1"/>
<path d="M256 1853.5 H264 M260 1853.5 V1912 M256 1912 H264 M321 1936.6 H329 M325 1936.6 V1945.4 M321 1945.4 H329 M388 1850.6 H396 M392 1850.6 V1897.4 M388 1897.4 H396 M453 1783 H461 M457 1783 V1897.1 M453 1897.1 H461"/>
<rect x="189" y="1937.8" width="10" height="10"/><rect x="255" y="1877.8" width="10" height="10"/><rect x="320" y="1936" width="10" height="10"/><rect x="387" y="1869" width="10" height="10"/><rect x="452" y="1835.1" width="10" height="10"/>
</g>
<g fill="none" stroke="#000" stroke-width="2.2">
<polyline points="194,1942.8 260,1962.6 325,1916.7 392,1886.9 457,1882.8"/>
<path d="M388 1878.1 H396 M392 1878.1 V1895.7 M388 1895.7 H396 M453 1850.6 H461 M457 1850.6 V1915 M453 1915 H461"/>
<circle cx="194" cy="1942.8" r="5.5"/><circle cx="260" cy="1962.6" r="5.5"/><circle cx="325" cy="1916.7" r="5.5"/><circle cx="392" cy="1886.9" r="5.5"/><circle cx="457" cy="1882.8" r="5.5"/>
</g>
<text x="260" y="1856" class="b" font-size="22" text-anchor="middle">*</text>

<!-- E5 MdNCED2 -->
<g stroke="#000" stroke-width="2.5" fill="none">
<path d="M655 1739 V1972 H1006"/>
<path d="M648 1739 H655 M648 1785.6 H655 M648 1832.2 H655 M648 1878.8 H655 M648 1925.4 H655 M648 1972 H655"/>
<path d="M700 1972 V1979 M765 1972 V1979 M831 1972 V1979 M896 1972 V1979 M961 1972 V1979"/>
</g>
<g class="b" font-size="24" text-anchor="end">
<text x="644" y="1748">25</text><text x="644" y="1794">20</text><text x="644" y="1841">15</text><text x="644" y="1888">10</text><text x="644" y="1934">5</text><text x="644" y="1981">0</text>
</g>
<g class="b" font-size="24" text-anchor="middle">
<text x="700" y="2007">0</text><text x="765" y="2007">5</text><text x="831" y="2007">10</text><text x="896" y="2007">15</text><text x="961" y="2007">20</text>
</g>
<text x="831" y="1732" class="b" font-size="24" font-style="italic" text-anchor="middle">MdNCED2</text>
<text x="831" y="2048" class="b" font-size="25" text-anchor="middle">Days in storage</text>
<text transform="translate(591,1855) rotate(-90)" class="b" font-size="25" text-anchor="middle">Relative expression</text>
<g fill="none" stroke="#f00" stroke-width="2.2">
<polyline points="700,1962.7 765,1955.3 831,1933.8 896,1910.5 961,1784.7"/>
<path d="M827 1920.3 H835 M831 1920.3 V1947.3 M827 1947.3 H835 M892 1896.5 H900 M896 1896.5 V1924.5 M892 1924.5 H900 M957 1776.3 H965 M961 1776.3 V1793.1 M957 1793.1 H965"/>
<rect x="695" y="1957.7" width="10" height="10"/><rect x="760" y="1950.3" width="10" height="10"/><rect x="826" y="1928.8" width="10" height="10"/><rect x="891" y="1905.5" width="10" height="10"/><rect x="956" y="1779.7" width="10" height="10"/>
</g>
<g fill="none" stroke="#000" stroke-width="2.2">
<polyline points="700,1962.7 765,1963.6 831,1961.4 896,1945.3 961,1852.7"/>
<path d="M957 1844.8 H965 M961 1844.8 V1860.6 M957 1860.6 H965"/>
<circle cx="700" cy="1962.7" r="5.5"/><circle cx="765" cy="1963.6" r="5.5"/><circle cx="831" cy="1961.4" r="5.5"/><circle cx="896" cy="1945.3" r="5.5"/><circle cx="961" cy="1852.7" r="5.5"/>
</g>
<text x="961" y="1780" class="b" font-size="22" text-anchor="middle">**</text>

<!-- E6 MdZEP -->
<g stroke="#000" stroke-width="2.5" fill="none">
<path d="M1189 1737 V1970 H1539"/>
<path d="M1182 1737 H1189 M1182 1814.7 H1189 M1182 1892.3 H1189 M1182 1970 H1189"/>
<path d="M1234 1970 V1977 M1299 1970 V1977 M1365 1970 V1977 M1431 1970 V1977 M1497 1970 V1977"/>
</g>
<g class="b" font-size="24" text-anchor="end">
<text x="1178" y="1746">15</text><text x="1178" y="1824">10</text><text x="1178" y="1901">5</text><text x="1178" y="1979">0</text>
</g>
<g class="b" font-size="24" text-anchor="middle">
<text x="1234" y="2006">0</text><text x="1299" y="2006">5</text><text x="1365" y="2006">10</text><text x="1431" y="2006">15</text><text x="1497" y="2006">20</text>
</g>
<text x="1344" y="1729" class="b" font-size="24" font-style="italic" text-anchor="middle">MdZEP</text>
<text x="1365" y="2044" class="b" font-size="25" text-anchor="middle">Days in storage</text>
<text transform="translate(1119,1844) rotate(-90)" class="b" font-size="25" text-anchor="middle">Relative expression</text>
<g fill="none" stroke="#f00" stroke-width="2.2">
<polyline points="1234,1954.5 1299,1940.6 1365,1797 1431,1909.4 1497,1929"/>
<path d="M1295 1920.4 H1303 M1299 1920.4 V1960.8 M1295 1960.8 H1303 M1361 1767 H1369 M1365 1767 V1827 M1361 1827 H1369 M1427 1889.2 H1435 M1431 1889.2 V1929.6 M1427 1929.6 H1435"/>
</g>
<g fill="#f00"><rect x="1229" y="1949.5" width="10" height="10"/><rect x="1294" y="1935.6" width="10" height="10"/><rect x="1360" y="1792" width="10" height="10"/><rect x="1426" y="1904.4" width="10" height="10"/><rect x="1492" y="1924" width="10" height="10"/></g>
<g fill="none" stroke="#000" stroke-width="2.2">
<polyline points="1234,1954.5 1299,1965 1365,1874.5 1431,1932.7 1497,1930.1"/>
<path d="M1361 1859.2 H1369 M1365 1859.2 V1889.7 M1361 1889.7 H1369 M1427 1928.8 H1435 M1431 1928.8 V1936.6 M1427 1936.6 H1435 M1493 1926.2 H1501 M1497 1926.2 V1934 M1493 1934 H1501"/>
</g>
<g fill="#000"><circle cx="1234" cy="1954.5" r="5"/><circle cx="1299" cy="1965" r="5"/><circle cx="1365" cy="1874.5" r="5"/><circle cx="1431" cy="1932.7" r="5"/><circle cx="1497" cy="1930.1" r="5"/></g>
<text x="1365" y="1770" class="b" font-size="22" text-anchor="middle">*</text>
</svg>
</body></html>
